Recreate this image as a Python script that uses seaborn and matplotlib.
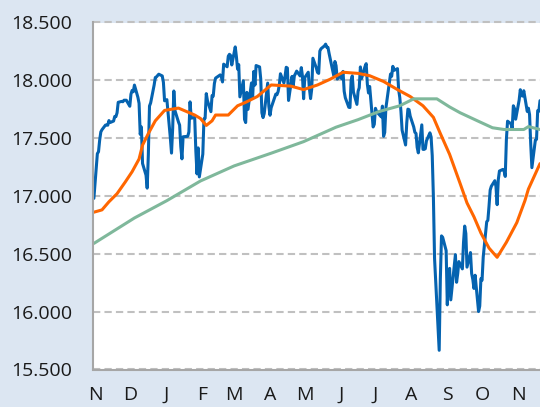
import pandas as pd
import numpy as np
import matplotlib
matplotlib.use("Agg")
import matplotlib.pyplot as plt
import matplotlib.dates as mdates
from matplotlib.ticker import FuncFormatter, FixedLocator
import seaborn as sns

# Handelstage Okt 2014 - Nov 2015 (ohne Börsenfeiertage)
holidays = ["2014-11-27", "2014-12-25", "2015-01-01", "2015-01-19", "2015-02-16",
            "2015-04-03", "2015-05-25", "2015-07-03", "2015-09-07"]
trade_days = pd.bdate_range("2014-10-31", "2015-11-20")
trade_days = trade_days[~trade_days.isin(pd.to_datetime(holidays))]

# Schlusskurse (Index-Punkte)
close = [
    16980,
    # Nov 2014
    17366, 17383, 17484, 17554, 17573, 17613, 17614, 17612, 17652, 17635,
    17648, 17688, 17686, 17719, 17810, 17818, 17815, 17828, 17828,
    # Dez 2014
    17776, 17880, 17913, 17901, 17959, 17853, 17801, 17533, 17597, 17281,
    17180, 17068, 17357, 17778, 17805, 17959, 18024, 18030, 18053, 18038,
    17983, 17823,
    # Jan 2015
    17833, 17501, 17371, 17585, 17908, 17737, 17640, 17613, 17427, 17321,
    17512, 17516, 17554, 17814, 17673, 17679, 17388, 17191, 17416, 17165,
    # Feb 2015
    17362, 17666, 17673, 17885, 17825, 17729, 17868, 17863, 17973, 18019,
    18047, 18029, 17986, 18140, 18117, 18209, 18225, 18215, 18133,
    # Mär 2015
    18289, 18204, 18097, 18136, 17857, 17996, 17662, 17635, 17896, 17749,
    17977, 17850, 18077, 17959, 18128, 18116, 18011, 17719, 17678, 17713,
    17976, 17776,
    # Apr 2015
    17698, 17763, 17881, 17876, 17903, 17958, 18057, 17977, 18036, 18113,
    18106, 17826, 18034, 17950, 18039, 18058, 18080, 18038, 18110, 18036,
    17841,
    # Mai 2015
    18024, 18070, 17929, 17842, 17925, 18191, 18106, 18068, 18060, 18253,
    18273, 18298, 18313, 18286, 18285, 18232, 18041, 18163, 18127, 18011,
    # Jun 2015
    18041, 18011, 18077, 17906, 17849, 17767, 17765, 18001, 18039, 17899,
    17792, 17905, 17936, 18116, 18015, 18120, 18144, 17967, 17891, 17947,
    17597, 17620,
    # Jul 2015
    17758, 17730, 17684, 17777, 17516, 17549, 17760, 17978, 18054, 18035,
    18121, 18086, 18101, 17920, 17851, 17732, 17569, 17441, 17631, 17751,
    17746, 17690,
    # Aug 2015
    17598, 17551, 17541, 17420, 17373, 17615, 17403, 17403, 17409, 17477,
    17546, 17512, 17349, 16991, 16460, 15871, 15666, 16285, 16655, 16643,
    16528,
    # Sep 2015
    16059, 16351, 16374, 16102, 16493, 16254, 16330, 16433, 16370, 16599,
    16740, 16675, 16385, 16511, 16330, 16280, 16201, 16315, 16001, 16049,
    16285,
    # Okt 2015
    16272, 16472, 16777, 16790, 16912, 17051, 17084, 17132, 17082, 16925,
    17141, 17216, 17230, 17218, 17169, 17490, 17647, 17624, 17582, 17780,
    17756, 17664,
    # Nov 2015
    17829, 17919, 17868, 17864, 17910, 17731, 17759, 17703, 17449, 17245,
    17484, 17490, 17738, 17733, 17824,
]

# 50-Tage-Linie
ma50_dates = ["2014-10-31", "2014-11-07", "2014-11-13", "2014-11-20", "2014-11-27",
              "2014-12-03", "2014-12-09", "2014-12-12", "2014-12-17", "2014-12-23",
              "2014-12-31", "2015-01-12", "2015-01-26", "2015-01-31", "2015-02-05",
              "2015-02-10", "2015-02-13", "2015-02-24", "2015-03-04", "2015-03-11",
              "2015-03-21", "2015-04-02", "2015-04-19", "2015-04-30", "2015-05-12",
              "2015-05-23", "2015-06-03", "2015-06-16", "2015-06-26", "2015-07-08",
              "2015-07-20", "2015-07-31", "2015-08-11", "2015-08-20", "2015-08-26",
              "2015-09-03", "2015-09-12", "2015-09-18", "2015-09-24", "2015-09-30",
              "2015-10-07", "2015-10-14", "2015-10-22", "2015-10-31", "2015-11-07",
              "2015-11-10", "2015-11-20"]
ma50_values = [16860, 16880, 16950, 17020, 17120,
               17210, 17320, 17440, 17540, 17650,
               17740, 17760, 17700, 17670, 17610,
               17650, 17700, 17700, 17780, 17810,
               17860, 17960, 17950, 17920, 17960,
               18010, 18070, 18060, 18040, 17990,
               17920, 17860, 17780, 17680, 17540,
               17360, 17110, 16940, 16820, 16680,
               16550, 16470, 16600, 16770, 16960,
               17060, 17280]

# 200-Tage-Linie
ma200_dates = ["2014-10-31", "2014-12-05", "2015-01-02", "2015-01-31", "2015-03-01",
               "2015-04-02", "2015-04-30", "2015-05-28", "2015-06-16", "2015-07-04",
               "2015-07-22", "2015-08-03", "2015-08-23", "2015-09-03", "2015-09-12",
               "2015-09-27", "2015-10-10", "2015-10-20", "2015-11-06", "2015-11-10",
               "2015-11-20"]
ma200_values = [16590, 16810, 16960, 17130, 17260,
                17370, 17470, 17595, 17660, 17730,
                17780, 17840, 17840, 17770, 17720,
                17650, 17590, 17575, 17575, 17600,
                17575]

y_ticks = [15500, 16000, 16500, 17000, 17500, 18000, 18500]

bg = "#dce6f2"
c_close = "#0563b0"
c_ma50 = "#ff6600"
c_ma200 = "#7fb89b"
c_axis = "#a6a6a6"

sns.set_style("white")
plt.rcParams['font.family'] = ['Open Sans', 'DejaVu Sans']

fig = plt.figure(figsize=(5.4, 4.07), dpi=100)
fig.patch.set_facecolor(bg)
ax = fig.add_axes([93.3 / 540, 37.5 / 407, 1 - 93.3 / 540, 347 / 407])
ax.set_facecolor("white")

df_close = pd.DataFrame({"datum": trade_days, "wert": close})
df_ma50 = pd.DataFrame({"datum": pd.to_datetime(ma50_dates), "wert": ma50_values})
df_ma200 = pd.DataFrame({"datum": pd.to_datetime(ma200_dates), "wert": ma200_values})

sns.lineplot(data=df_close, x="datum", y="wert", ax=ax, color=c_close, lw=2.2, estimator=None)
sns.lineplot(data=df_ma50, x="datum", y="wert", ax=ax, color=c_ma50, lw=2.2, estimator=None)
sns.lineplot(data=df_ma200, x="datum", y="wert", ax=ax, color=c_ma200, lw=2.2, estimator=None)

ax.set(xlabel="", ylabel="")
ax.set_ylim(15500, 18500)
ax.set_xlim(pd.Timestamp("2014-10-30 12:00"), pd.Timestamp("2015-11-20"))

ax.yaxis.set_major_locator(FixedLocator(y_ticks))
ax.yaxis.set_major_formatter(FuncFormatter(lambda v, p: f"{v:,.0f}".replace(",", ".")))
ax.xaxis.set_major_locator(mdates.MonthLocator())
ax.xaxis.set_major_formatter(FuncFormatter(lambda v, p: mdates.num2date(v).strftime("%b")[0]))

ax.set_axisbelow(True)
ax.yaxis.grid(True, linestyle=(0, (3.5, 2)), color="#c0c0c0", lw=1.5)
ax.xaxis.grid(False)
for gl in ax.get_ygridlines():
    gl.set_clip_on(False)

for side in ["top", "right"]:
    ax.spines[side].set_visible(False)
for side in ["left", "bottom"]:
    ax.spines[side].set_color(c_axis)
    ax.spines[side].set_linewidth(1.5)

ax.tick_params(axis="both", direction="out", length=5, width=1.5, color=c_axis,
               labelsize=14, labelcolor="#1a1a1a")
ax.tick_params(axis="y", pad=10)
ax.tick_params(axis="x", pad=7)

fig.savefig("out.png", dpi=100, facecolor=bg)
